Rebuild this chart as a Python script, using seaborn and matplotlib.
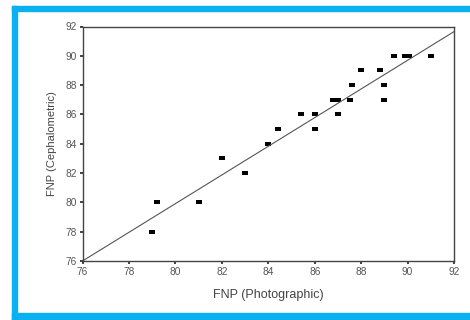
import numpy as np
import pandas as pd
import matplotlib
matplotlib.use("Agg")
import matplotlib.pyplot as plt
import seaborn as sns
from matplotlib.patches import Rectangle

# FNP readings
photo = [79.0, 79.2, 81.0, 82.0, 83.0, 84.0, 84.4, 85.4, 86.0, 86.0,
         86.8, 87.0, 87.0, 87.5, 87.6, 88.0, 88.8, 89.0, 89.0, 89.4,
         89.9, 90.05, 91.0]
ceph = [78, 80, 80, 83, 82, 84, 85, 86, 86, 85,
        87, 87, 86, 87, 88, 89, 89, 88, 87, 90,
        90, 90, 90]
line_x = [76, 92]
line_y = [76, 91.65]

ticks = [76, 78, 80, 82, 84, 86, 88, 90, 92]

df = pd.DataFrame({"photo": photo, "ceph": ceph})

sns.set_style("white")
plt.rcParams['font.family'] = ['Liberation Sans', 'DejaVu Sans']

fig = plt.figure(figsize=(4.7, 3.2), dpi=100)
ax = fig.add_axes([82.5 / 470, 1 - 261 / 320, (454 - 82.5) / 470, (261 - 26.5) / 320])

# slightly wider than tall squares, like the scanned markers
rect = [(-1.3, -1), (1.3, -1), (1.3, 1), (-1.3, 1), (-1.3, -1)]
sns.scatterplot(data=df, x="photo", y="ceph", marker=rect, color="black",
                s=14, linewidth=0, ax=ax)
sns.lineplot(x=line_x, y=line_y, color="#555555", linewidth=0.8, ax=ax)

ax.set_xlim(76, 92)
ax.set_ylim(76, 92)
ax.set_xticks(ticks)
ax.set_yticks(ticks)
ax.tick_params(axis="both", direction="out", length=2.5, width=1.2,
               color="#222222", labelsize=7.3, labelcolor="#555555", pad=1.5,
               bottom=True, left=True)
for sp in ax.spines.values():
    sp.set_color("#444444")
    sp.set_linewidth(1.0)

ax.set_xlabel("FNP (Photographic)", fontsize=9, color="#444444", labelpad=9)
ax.set_ylabel("FNP (Cephalometric)", fontsize=8, color="#444444", labelpad=6)

# blue frame round the picture (right side is cut off)
blue = "#0AB0F0"
fig.patches.append(Rectangle((12 / 470, 0), 5 / 470, 1 - 6 / 320,
                             transform=fig.transFigure, color=blue, zorder=0))
fig.patches.append(Rectangle((12 / 470, 1 - 11 / 320), 1, 5 / 320,
                             transform=fig.transFigure, color=blue, zorder=0))
fig.patches.append(Rectangle((12 / 470, 0), 1, 7 / 320,
                             transform=fig.transFigure, color=blue, zorder=0))

fig.savefig("out.png", dpi=100)
